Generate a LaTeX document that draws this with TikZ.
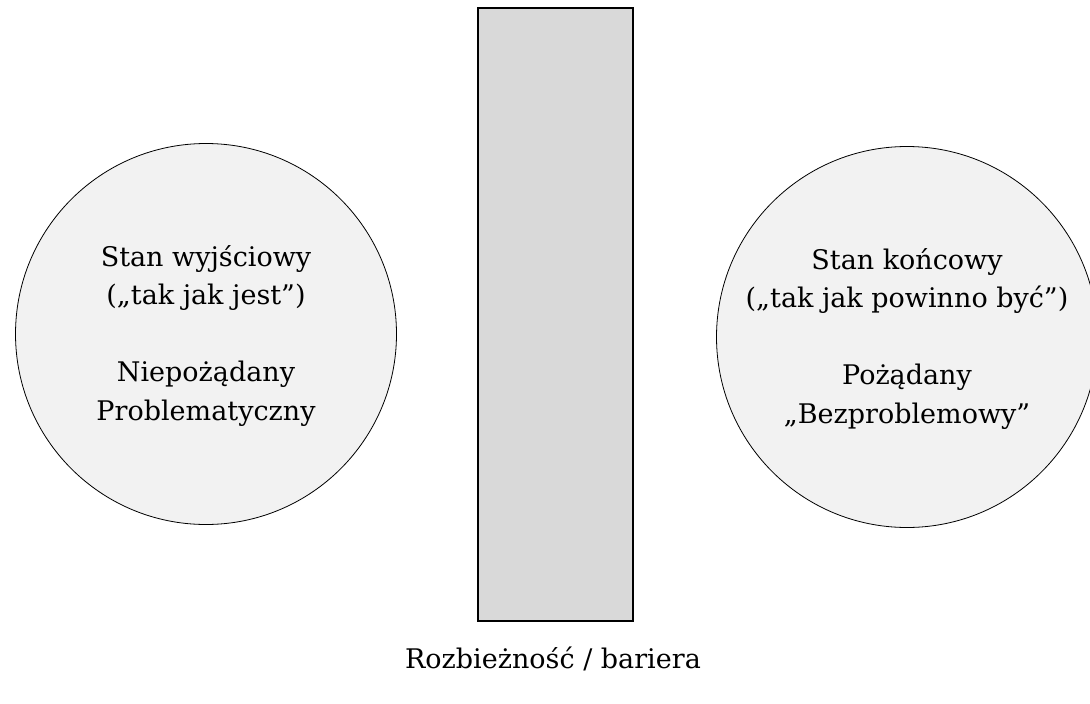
\documentclass[tikz,border=0pt]{standalone}
\usepackage{fontspec}
\setmainfont{DejaVu Serif}
\begin{document}
\begin{tikzpicture}[x=1pt,y=-1pt,
  state/.style={circle, draw=black, line width=0.8pt, fill=circfill, minimum size=381pt, inner sep=0pt},
  barrier/.style={draw=black, line width=1.5pt, fill=barfill, minimum width=155pt, minimum height=613pt, inner sep=0pt},
  lbl/.style={align=center, inner sep=0pt, font=\fontsize{27}{38.5}\selectfont}]
\definecolor{circfill}{HTML}{F2F2F2}
\definecolor{barfill}{HTML}{D9D9D9}
\useasboundingbox (0,0) rectangle (1090,704);
\clip (0,0) rectangle (1090,704);
\node[state] (left) at (206,334) {};
\node[state] (right) at (907,337) {};
\node[barrier] (bar) at (555.5,314.5) {};
\node[lbl] (ltext) at (206,336) {Stan wyjściowy\\(„tak jak jest”)\\[38.5pt]Niepożądany\\Problematyczny};
\node[lbl] (rtext) at (907,339) {Stan końcowy\\(„tak jak powinno być”)\\[38.5pt]Pożądany\\„Bezproblemowy”};
\node[lbl, anchor=base] (blabel) at (553,668) {Rozbieżność / bariera};
\end{tikzpicture}
\end{document}
